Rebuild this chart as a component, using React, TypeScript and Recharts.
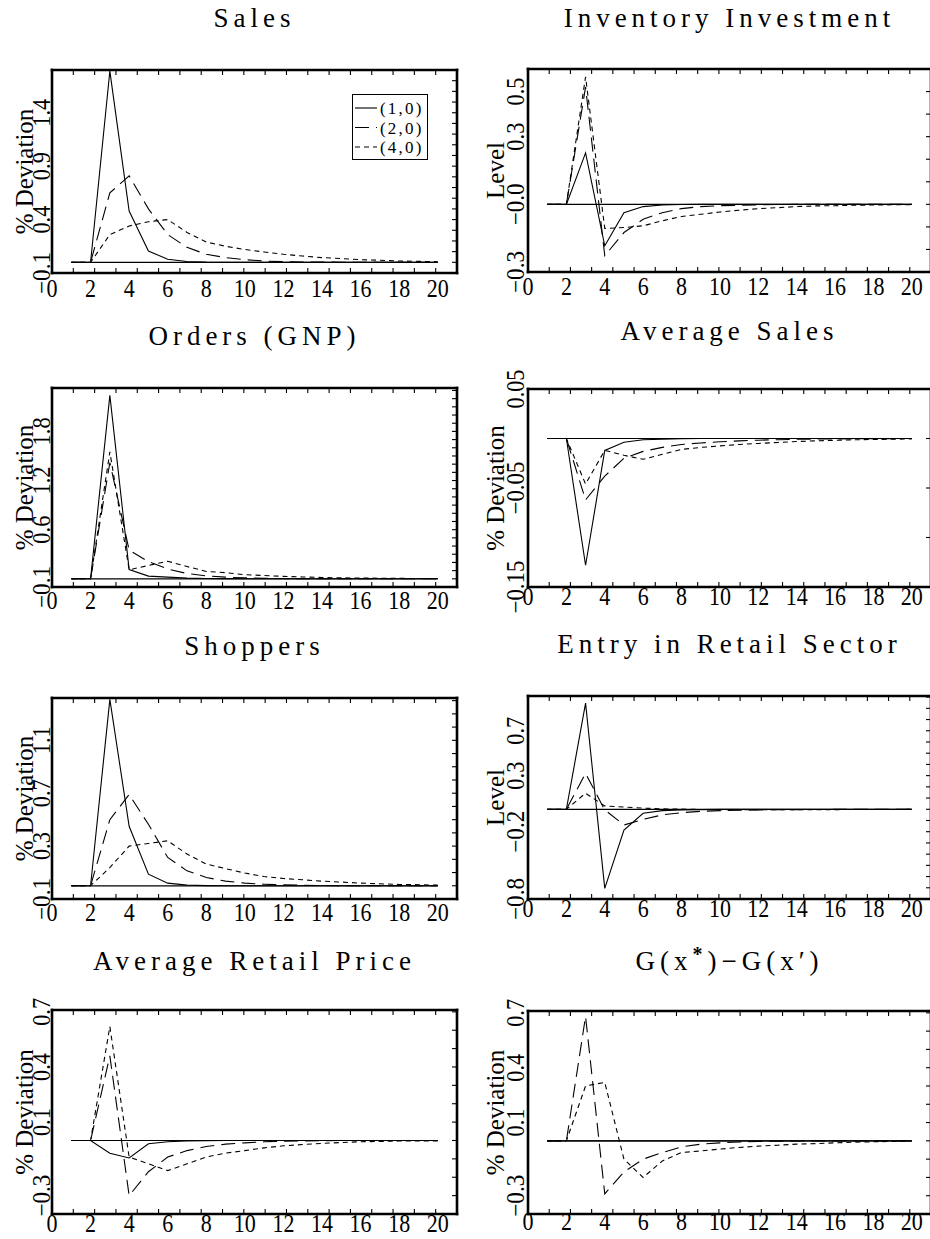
import React from 'react';
import { LineChart, Line, XAxis, YAxis, ReferenceLine, Legend } from 'recharts';

// ---------- data ----------
const periods = [1, 2, 3, 4, 5, 6, 7, 8, 9, 10, 11, 12, 13, 14, 15, 16, 17, 18, 19, 20];
const xTickValues = [0, 2, 4, 6, 8, 10, 12, 14, 16, 18, 20];
const xTickLabels = ['0', '2', '4', '6', '8', '10', '12', '14', '16', '18', '20'];
const seriesNames = ['(1,0)', '(2,0)', '(4,0)'];

const salesS10 = [0, 0, 1.79, 0.48, 0.106, 0.028, 0.008, 0.002, 0, 0, 0, 0, 0, 0, 0, 0, 0, 0, 0, 0];
const salesS20 = [0, 0, 0.65, 0.81, 0.5, 0.26, 0.14, 0.075, 0.044, 0.025, 0.012, 0.006, 0.003, 0.002, 0.001, 0, 0, 0, 0, 0];
const salesS40 = [0, 0, 0.26, 0.34, 0.38, 0.4, 0.28, 0.19, 0.15, 0.12, 0.097, 0.075, 0.059, 0.044, 0.035, 0.025, 0.019, 0.012, 0.009, 0.006];
const salesTicks = [-0.1, 0.4, 0.9, 1.4];
const salesTickLabels = ['\u22120.1', '0.4', '0.9', '1.4'];

const invS10 = [0, 0, 0.228, -0.184, -0.037, -0.01, -0.003, -0.001, 0, 0, 0, 0, 0, 0, 0, 0, 0, 0, 0, 0];
const invS20 = [0, 0, 0.52, -0.228, -0.125, -0.066, -0.037, -0.019, -0.01, -0.006, -0.004, -0.002, -0.001, 0, 0, 0, 0, 0, 0, 0];
const invS40 = [0, 0, 0.565, -0.107, -0.103, -0.095, -0.073, -0.054, -0.044, -0.034, -0.026, -0.019, -0.015, -0.01, -0.007, -0.006, -0.004, -0.003, -0.002, -0.002];
const invTicks = [-0.3, 0, 0.3, 0.5];
const invTickLabels = ['\u22120.3', '\u22120.0', '0.3', '0.5'];

const ordS10 = [0, 0, 2.24, 0.114, 0.033, 0.02, 0.008, 0.004, 0.002, 0, 0, 0, 0, 0, 0, 0, 0, 0, 0, 0];
const ordS20 = [0, 0, 1.42, 0.35, 0.21, 0.12, 0.065, 0.035, 0.02, 0.012, 0.006, 0.003, 0.002, 0.001, 0, 0, 0, 0, 0, 0];
const ordS40 = [0, 0, 1.55, 0.11, 0.163, 0.215, 0.15, 0.09, 0.075, 0.05, 0.04, 0.03, 0.023, 0.016, 0.012, 0.009, 0.007, 0.005, 0.004, 0.003];
const ordTicks = [-0.1, 0.6, 1.2, 1.8];
const ordTickLabels = ['\u22120.1', '0.6', '1.2', '1.8'];

const avgS10 = [0, 0, -0.128, -0.012, -0.0037, -0.0013, -0.0007, -0.0003, 0, 0, 0, 0, 0, 0, 0, 0, 0, 0, 0, 0];
const avgS20 = [0, 0, -0.062, -0.038, -0.02, -0.013, -0.009, -0.006, -0.0045, -0.0033, -0.0024, -0.0017, -0.0012, -0.0008, -0.0006, -0.0004, -0.0003, -0.0002, -0.0001, 0];
const avgS40 = [0, 0, -0.046, -0.012, -0.017, -0.021, -0.016, -0.011, -0.009, -0.0075, -0.006, -0.005, -0.004, -0.003, -0.0024, -0.0018, -0.0013, -0.001, -0.0007, -0.0005];
const avgTicks = [-0.15, -0.05, 0.05];
const avgTickLabels = ['\u22120.15', '\u22120.05', '0.05'];

const shopS10 = [0, 0, 1.41, 0.45, 0.088, 0.02, 0.005, 0.001, 0, 0, 0, 0, 0, 0, 0, 0, 0, 0, 0, 0];
const shopS20 = [0, 0, 0.5, 0.69, 0.465, 0.214, 0.113, 0.063, 0.035, 0.02, 0.012, 0.007, 0.004, 0.002, 0.001, 0, 0, 0, 0, 0];
const shopS40 = [0, 0, 0.138, 0.3, 0.32, 0.34, 0.24, 0.164, 0.13, 0.096, 0.07, 0.055, 0.045, 0.035, 0.028, 0.02, 0.015, 0.01, 0.008, 0.005];
const shopTicks = [-0.1, 0.3, 0.7, 1.1];
const shopTickLabels = ['\u22120.1', '0.3', '0.7', '1.1'];

const entS10 = [0, 0, 0.946, -0.705, -0.185, -0.036, -0.012, -0.006, -0.003, -0.001, 0, 0, 0, 0, 0, 0, 0, 0, 0, 0];
const entS20 = [0, 0, 0.32, -0.006, -0.14, -0.09, -0.05, -0.03, -0.018, -0.012, -0.009, -0.006, -0.004, -0.003, -0.002, -0.001, -0.001, 0, 0, 0];
const entS40 = [0, 0, 0.143, 0.03, 0.02, 0.01, 0.004, 0.001, -0.002, -0.003, -0.004, -0.004, -0.004, -0.004, -0.003, -0.003, -0.002, -0.002, -0.002, -0.001];
const entTicks = [-0.8, -0.2, 0.3, 0.7];
const entTickLabels = ['\u22120.8', '\u22120.2', '0.3', '0.7'];

const priS10 = [0, 0, -0.069, -0.095, -0.018, -0.007, -0.002, -0.001, 0, 0, 0, 0, 0, 0, 0, 0, 0, 0, 0, 0];
const priS20 = [0, 0, 0.46, -0.3, -0.17, -0.09, -0.055, -0.033, -0.02, -0.013, -0.007, -0.004, -0.002, -0.001, 0, 0, 0, 0, 0, 0];
const priS40 = [0, 0, 0.62, -0.09, -0.127, -0.164, -0.127, -0.09, -0.069, -0.055, -0.04, -0.029, -0.022, -0.016, -0.011, -0.007, -0.005, -0.003, -0.002, -0.002];
const priTicks = [-0.3, 0.1, 0.4, 0.7];
const priTickLabels = ['\u22120.3', '0.1', '0.4', '0.7'];

const gS10 = [0, 0, 0, 0, 0, 0, 0, 0, 0, 0, 0, 0, 0, 0, 0, 0, 0, 0, 0, 0];
const gS20 = [0, 0, 0.68, -0.29, -0.17, -0.1, -0.064, -0.033, -0.018, -0.011, -0.006, -0.003, -0.002, -0.001, 0, 0, 0, 0, 0, 0];
const gS40 = [0, 0, 0.3, 0.32, -0.1, -0.2, -0.11, -0.064, -0.055, -0.045, -0.036, -0.029, -0.024, -0.018, -0.015, -0.011, -0.007, -0.005, -0.003, -0.002];
const gTicks = [-0.3, 0.1, 0.4, 0.7];
const gTickLabels = ['\u22120.3', '0.1', '0.4', '0.7'];

// ---------- styles / layout ----------
const FONT = '"Liberation Serif", "DejaVu Serif", serif';
const DASHES = ['', '14 7', '5 4'];
const BOX_LINE = { stroke: '#000', strokeWidth: 2.6, strokeLinecap: 'square' as const };
const MINOR_LINE = { stroke: '#000', strokeWidth: 1.1 };

type PanelCfg = {
  title: React.ReactNode;
  yTitle: string;
  domain: [number, number];
  yTicks: number[];
  yLabels: string[];
  minorStep: number;
  s: number[][];
  col: 0 | 1;
  box: { left: number; top: number; w: number; h: number };
  titleY: number;
  xDy: number;
  legend?: boolean;
};

const gTitle = (
  <>
    G(x<tspan dy={-9} fontSize={20} fontWeight="bold">*</tspan>
    <tspan dy={9}>)</tspan>{'\u2212'}G(x{'\u2032'})
  </>
);

const panels: PanelCfg[] = [
  { title: 'Sales', yTitle: '% Deviation', domain: [-0.1, 1.8], yTicks: salesTicks, yLabels: salesTickLabels, minorStep: 0.1, s: [salesS10, salesS20, salesS40], col: 0, box: { left: 52, top: 70, w: 405, h: 203 }, titleY: 27, xDy: 24, legend: true },
  { title: 'Inventory Investment', yTitle: 'Level', domain: [-0.3, 0.6], yTicks: invTicks, yLabels: invTickLabels, minorStep: 0.1, s: [invS10, invS20, invS40], col: 1, box: { left: 528, top: 69, w: 403, h: 203 }, titleY: 27, xDy: 23 },
  { title: 'Orders (GNP)', yTitle: '% Deviation', domain: [-0.1, 2.33], yTicks: ordTicks, yLabels: ordTickLabels, minorStep: 0.1, s: [ordS10, ordS20, ordS40], col: 0, box: { left: 52, top: 388, w: 405, h: 199 }, titleY: 345, xDy: 22 },
  { title: 'Average Sales', yTitle: '% Deviation', domain: [-0.15, 0.05], yTicks: avgTicks, yLabels: avgTickLabels, minorStep: 0.05, s: [avgS10, avgS20, avgS40], col: 1, box: { left: 528, top: 389, w: 403, h: 198 }, titleY: 340, xDy: 18 },
  { title: 'Shoppers', yTitle: '% Deviation', domain: [-0.1, 1.42], yTicks: shopTicks, yLabels: shopTickLabels, minorStep: 0.1, s: [shopS10, shopS20, shopS40], col: 0, box: { left: 52, top: 698, w: 405, h: 201 }, titleY: 655, xDy: 22 },
  { title: 'Entry in Retail Sector', yTitle: 'Level', domain: [-0.8, 1.01], yTicks: entTicks, yLabels: entTickLabels, minorStep: 0.1, s: [entS10, entS20, entS40], col: 1, box: { left: 528, top: 696, w: 403, h: 203 }, titleY: 653, xDy: 18 },
  { title: 'Average Retail Price', yTitle: '% Deviation', domain: [-0.4, 0.71], yTicks: priTicks, yLabels: priTickLabels, minorStep: 0.1, s: [priS10, priS20, priS40], col: 0, box: { left: 52, top: 1010, w: 405, h: 204 }, titleY: 970, xDy: 18 },
  { title: gTitle, yTitle: '% Deviation', domain: [-0.4, 0.71], yTicks: gTicks, yLabels: gTickLabels, minorStep: 0.1, s: [gS10, gS20, gS40], col: 1, box: { left: 528, top: 1011, w: 403, h: 203 }, titleY: 970, xDy: 16 },
];

function minorTicks(domain: [number, number], step: number) {
  const out: number[] = [];
  const k0 = Math.ceil(domain[0] / step - 1e-9);
  const k1 = Math.floor(domain[1] / step + 1e-9);
  for (let k = k0; k <= k1; k++) out.push(+(k * step).toFixed(4));
  return out;
}

function textLen(s: string) {
  let w = 0;
  for (const ch of s) {
    if (ch === '.') w += 6;
    else if (ch === '\u2212') w += 14;
    else w += 11;
  }
  return w;
}

function labelFor(values: number[], labels: string[], v: number) {
  const i = values.findIndex((t) => Math.abs(t - v) < 1e-6);
  return i >= 0 ? labels[i] : '';
}

const NoTick = () => <g />;

const XTick = (props: any) => {
  const { x, y, payload, dyOff } = props;
  const s = labelFor(xTickValues, xTickLabels, payload.value);
  if (!s) return <g />;
  return (
    <text x={x} y={y + dyOff} textAnchor="middle" fontFamily={FONT} fontSize={26} fill="#000"
      textLength={textLen(s)} lengthAdjust="spacingAndGlyphs">{s}</text>
  );
};

const YTick = (props: any) => {
  const { x, y, payload, gap, values, labels } = props;
  const s = labelFor(values, labels, payload.value);
  if (!s) return <g />;
  const tx = x - gap;
  return (
    <text x={tx} y={y} transform={`rotate(-90 ${tx} ${y})`} textAnchor="middle" fontFamily={FONT}
      fontSize={25} fill="#000" textLength={textLen(s)} lengthAdjust="spacingAndGlyphs">{s}</text>
  );
};

const renderLegend = (props: any) => {
  const items: any[] = props.payload || [];
  return (
    <svg width={76} height={66} style={{ display: 'block' }}>
      <rect x={0.5} y={0.5} width={75} height={65} fill="#fff" stroke="#000" strokeWidth={1} />
      {items.map((it, i) => {
        const cy = 14 + i * 19.5;
        return (
          <g key={i}>
            <line x1={3} x2={25} y1={cy} y2={cy} stroke="#000" strokeWidth={1.1} strokeDasharray={DASHES[i] || undefined} />
            <text x={28} y={cy + 6} fontFamily={FONT} fontSize={17} letterSpacing={2.2} fill="#000">{it.value}</text>
          </g>
        );
      })}
    </svg>
  );
};

function Panel({ cfg }: { cfg: PanelCfg }) {
  const { box } = cfg;
  const svgLeft = cfg.col === 0 ? 0 : 465;
  const width = cfg.col === 0 ? 465 : 472;
  const yAxisW = box.left - svgLeft;
  const mTop = 30;
  const xAxisH = 34;
  const mRight = width - yAxisW - box.w;
  const height = mTop + box.h + xAxisH;
  const svgTop = box.top - mTop;
  const labelGap = cfg.col === 0 ? 2 : 4;
  const titleGap = cfg.col === 0 ? 19.5 : 24;
  const data = periods.map((p, i) => ({ x: p, a: cfg.s[0][i], b: cfg.s[1][i], c: cfg.s[2][i] }));
  const minors = minorTicks(cfg.domain, cfg.minorStep);

  return (
    <div style={{ position: 'absolute', left: svgLeft, top: svgTop }}>
      <LineChart width={width} height={height} data={data} margin={{ top: mTop, right: mRight, bottom: 0, left: 0 }}>
        <XAxis xAxisId="main" dataKey="x" type="number" domain={[0, 21]} allowDataOverflow ticks={xTickValues}
          interval={0} height={xAxisH} tickSize={0} tickMargin={0} tickLine={false} axisLine={BOX_LINE}
          tick={(p: any) => <XTick {...p} dyOff={cfg.xDy} />} />
        <XAxis xAxisId="topMinor" orientation="top" mirror type="number" domain={[0, 21]} allowDataOverflow
          ticks={periods} interval={0} tick={NoTick} tickSize={5} tickMargin={0} tickLine={MINOR_LINE} axisLine={BOX_LINE} />
        <XAxis xAxisId="bottomMinor" orientation="bottom" mirror type="number" domain={[0, 21]} allowDataOverflow
          ticks={periods} interval={0} tick={NoTick} tickSize={5} tickMargin={0} tickLine={MINOR_LINE} axisLine={false} />
        <YAxis yAxisId="main" type="number" domain={cfg.domain} allowDataOverflow ticks={cfg.yTicks} interval={0}
          width={yAxisW} tickSize={0} tickMargin={0} tickLine={false} axisLine={BOX_LINE}
          tick={(p: any) => <YTick {...p} gap={labelGap} values={cfg.yTicks} labels={cfg.yLabels} />}
          label={{
            content: (lp: any) => {
              const vb = lp && lp.viewBox;
              if (!vb) return null;
              const cx = vb.x + vb.width - titleGap;
              const cy = vb.y + vb.height / 2;
              return (
                <text x={cx} y={cy} transform={`rotate(-90 ${cx} ${cy})`} textAnchor="middle"
                  fontFamily={FONT} fontSize={25} fill="#000">{cfg.yTitle}</text>
              );
            },
          }} />
        <YAxis yAxisId="rightMinor" orientation="right" mirror type="number" domain={cfg.domain} allowDataOverflow
          ticks={minors} interval={0} tick={NoTick} tickSize={5} tickMargin={0} tickLine={MINOR_LINE} axisLine={BOX_LINE} />
        <ReferenceLine xAxisId="main" yAxisId="main" segment={[{ x: 1, y: 0 }, { x: 20, y: 0 }]}
          stroke="#000" strokeWidth={1.2} />
        {['a', 'b', 'c'].map((k, i) => (
          <Line key={k} xAxisId="main" yAxisId="main" dataKey={k} name={seriesNames[i]} type="linear"
            stroke="#000" strokeWidth={1.1} strokeDasharray={DASHES[i] || undefined}
            dot={false} activeDot={false} isAnimationActive={false} />
        ))}
        {cfg.legend && (
          <Legend layout="vertical" align="center" verticalAlign="middle" content={renderLegend}
            wrapperStyle={{ left: 352 - svgLeft, top: 94 - svgTop, width: 76, height: 66 }} />
        )}
      </LineChart>
    </div>
  );
}

export default function App() {
  return (
    <div style={{ position: 'absolute', left: 0, top: 0, width: 930, height: 1239, overflow: 'hidden', background: '#fff' }}>
      {panels.map((p, i) => (
        <Panel key={i} cfg={p} />
      ))}
      <svg width={930} height={1239} style={{ position: 'absolute', left: 0, top: 0, pointerEvents: 'none' }}>
        {panels.map((p, i) => (
          <text key={i} x={p.box.left + p.box.w / 2} y={p.titleY} textAnchor="middle" fontFamily={FONT}
            fontSize={27} letterSpacing={5} fill="#000">{p.title}</text>
        ))}
      </svg>
    </div>
  );
}
